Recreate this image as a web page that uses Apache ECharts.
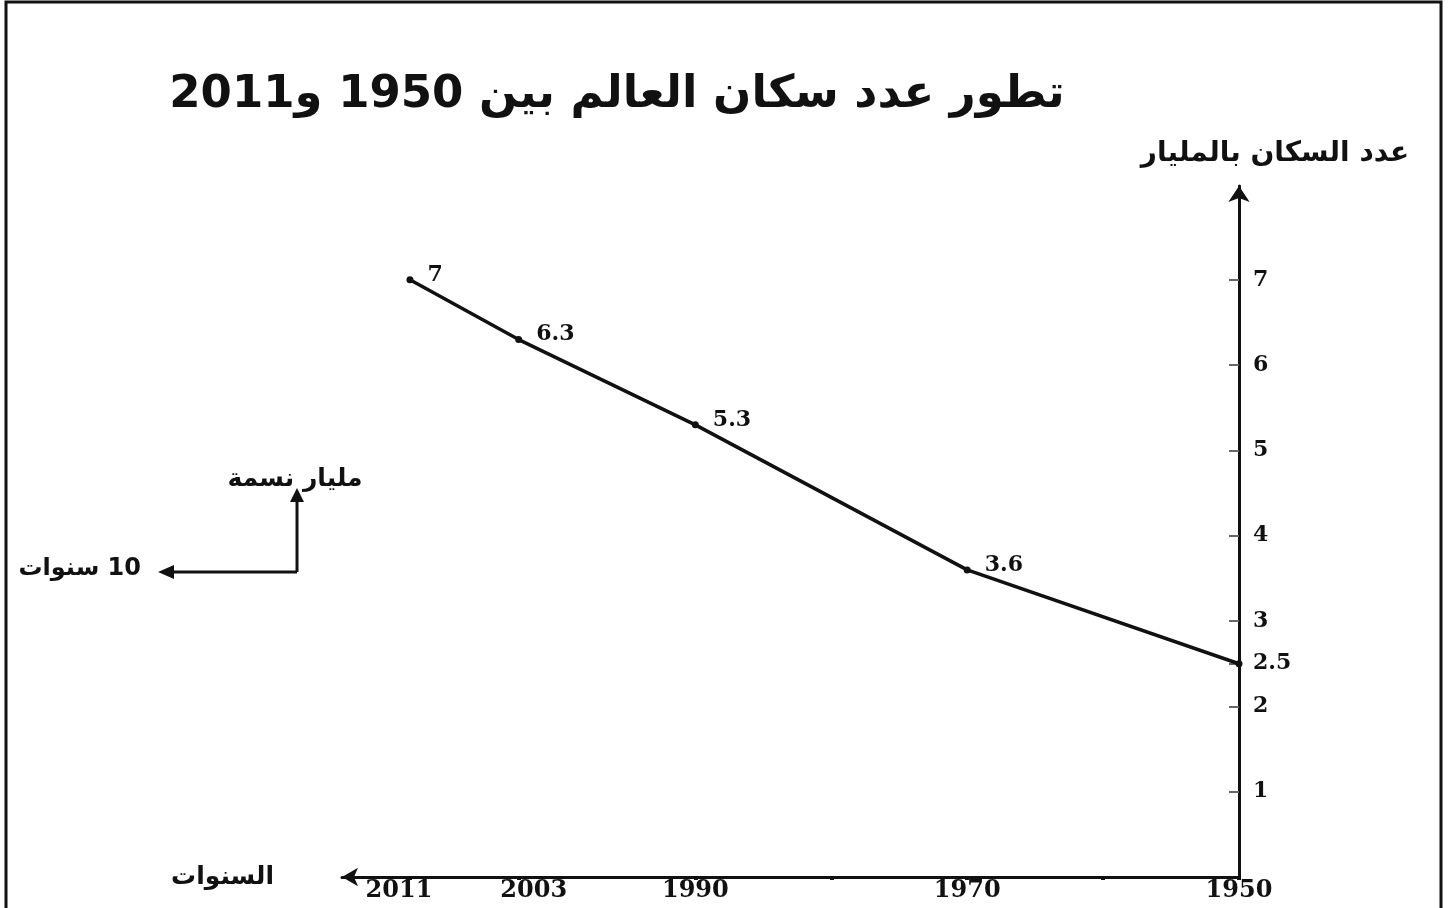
<!DOCTYPE html>
<html>
<head>
<meta charset="utf-8">
<script src="https://cdn.jsdelivr.net/npm/echarts@6/dist/echarts.min.js"></script>
<style>
  html, body { margin: 0; padding: 0; background: #fff; }
  #main { width: 1453px; height: 908px; direction: rtl; }
</style>
</head>
<body>
<div id="main"></div>
<script>
// data
var years = [1950, 1970, 1990, 2003, 2011];
var population = [2.5, 3.6, 5.3, 6.3, 7];
var yearLabels = [1950, 1970, 1990, 2003, 2011];
var yearTicks = [1950, 1960, 1970, 1980, 1990, 2003, 2011];
var popLabels = [1, 2, 2.5, 3, 4, 5, 6, 7];

var titleText = 'تطور عدد سكان العالم بين 1950 و2011';
var yName = 'عدد السكان بالمليار';
var xName = 'السنوات';
var unitY = 'مليار نسمة';
var unitX = '10 سنوات';

var arabicFont = 'DejaVu Sans';
var numFont = 'DejaVu Serif';

var chart = echarts.init(document.getElementById('main'));

var seriesData = [];
for (var i = 0; i < years.length; i++) {
    seriesData.push({
        value: [years[i], population[i]],
        label: { show: i !== 0 }   // 2.5 is already an axis label
    });
}

var yearLabelStyle = { fontFamily: numFont, fontWeight: 'bold', fontSize: 24, color: '#111' };

var option = {
    backgroundColor: '#fff',
    animation: false,
    title: {
        text: titleText,
        left: 612,
        top: 68,
        textAlign: 'center',
        textStyle: { fontFamily: arabicFont, fontWeight: 'bold', fontSize: 45, color: '#111' }
    },
    grid: { left: 342, right: 214, top: 186, bottom: 31 },
    xAxis: {
        type: 'value',
        inverse: true,
        min: 1950,
        max: 2016,
        name: xName,
        nameLocation: 'end',
        nameGap: 68,
        nameTextStyle: { fontFamily: arabicFont, fontWeight: 'bold', fontSize: 25, color: '#111', verticalAlign: 'middle', padding: [0, 0, 10, 0] },
        splitLine: { show: false },
        axisLine: {
            lineStyle: { color: '#111', width: 3 },
            symbol: ['arrow', 'none'],
            symbolSize: [14, 16]
        },
        axisTick: {
            customValues: yearTicks,
            length: 3,
            lineStyle: { color: '#111', width: 4 }
        },
        axisLabel: {
            customValues: yearLabels,
            margin: 2,
            fontFamily: numFont,
            fontWeight: 'bold',
            fontSize: 24,
            color: '#111',
            formatter: function (v) {
                if (v === 2003) return '{r|' + v + '}';
                if (v === 2011) return '{l|' + v + '}';
                return String(v);
            },
            rich: {
                // labels in the picture sit a little off their years
                r: Object.assign({ padding: [0, 0, 0, 30] }, yearLabelStyle),
                l: Object.assign({ padding: [0, 22, 0, 0] }, yearLabelStyle)
            }
        }
    },
    yAxis: {
        type: 'value',
        position: 'right',
        min: 0,
        max: 8.1,
        name: yName,
        nameLocation: 'end',
        nameGap: 18,
        nameTextStyle: { fontFamily: arabicFont, fontWeight: 'bold', fontSize: 28, color: '#111', align: 'center', padding: [0, 0, 0, 72] },
        splitLine: { show: false },
        axisLine: {
            lineStyle: { color: '#111', width: 3 },
            symbol: ['none', 'arrow'],
            symbolSize: [16, 16]
        },
        axisTick: {
            customValues: popLabels,
            inside: true,
            length: 10,
            lineStyle: { color: '#666', width: 2 }
        },
        axisLabel: {
            customValues: popLabels,
            margin: 14,
            fontFamily: numFont,
            fontWeight: 'bold',
            fontSize: 22,
            color: '#111',
            formatter: function (v) { return String(v); }
        }
    },
    series: [{
        type: 'line',
        data: seriesData,
        symbol: 'circle',
        symbolSize: 7,
        itemStyle: { color: '#111' },
        lineStyle: { color: '#111', width: 3.5 },
        label: {
            position: 'right',
            distance: 14,
            offset: [0, -5],
            fontFamily: numFont,
            fontWeight: 'bold',
            fontSize: 22,
            color: '#111'
        }
    }],
    graphic: [
        // frame
        {
            type: 'rect',
            shape: { x: 6, y: 2, width: 1435, height: 920 },
            style: { fill: 'none', stroke: '#111', lineWidth: 3 },
            silent: true
        },
        // unit indicator: vertical arrow
        {
            type: 'line',
            shape: { x1: 297, y1: 572, x2: 297, y2: 500 },
            style: { stroke: '#111', lineWidth: 3 }
        },
        {
            type: 'polygon',
            shape: { points: [[297, 488], [290, 502], [304, 502]] },
            style: { fill: '#111' }
        },
        // unit indicator: horizontal arrow
        {
            type: 'line',
            shape: { x1: 297, y1: 572, x2: 172, y2: 572 },
            style: { stroke: '#111', lineWidth: 3 }
        },
        {
            type: 'polygon',
            shape: { points: [[158, 572], [174, 565], [174, 579]] },
            style: { fill: '#111' }
        },
        {
            type: 'text',
            x: 295,
            y: 479,
            style: { text: unitY, fontFamily: arabicFont, fontWeight: 'bold', fontSize: 25, fill: '#111', align: 'center', verticalAlign: 'middle' }
        },
        {
            type: 'text',
            x: 141,
            y: 569,
            style: { text: unitX, fontFamily: arabicFont, fontWeight: 'bold', fontSize: 24, fill: '#111', align: 'right', verticalAlign: 'middle' }
        }
    ]
};

chart.setOption(option);
</script>
</body>
</html>
